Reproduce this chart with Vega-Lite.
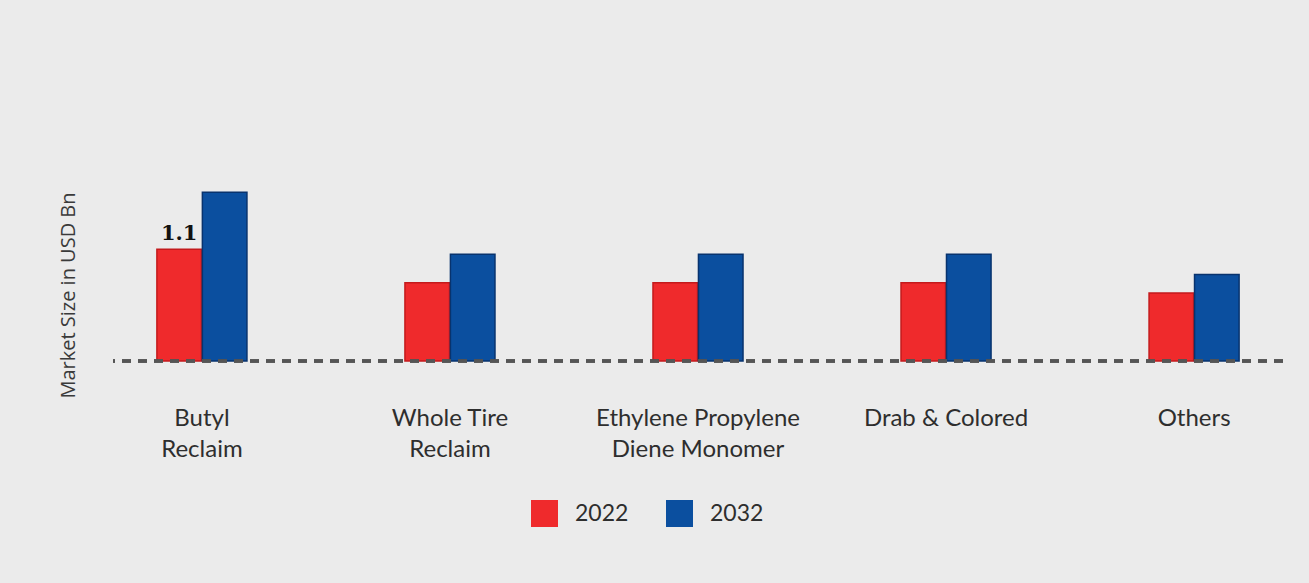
{
  "$schema": "https://vega.github.io/schema/vega-lite/v6.json",
  "autosize": "none",
  "width": 1170,
  "height": 183,
  "padding": {"left": 113, "top": 178, "right": 26, "bottom": 222},
  "background": "#ebebeb",
  "config": {"view": {"stroke": null}, "font": "Lato"},
  "data": {"values": [
    {"category": "Butyl Reclaim", "year": "2022", "value": 1.1},
    {"category": "Butyl Reclaim", "year": "2032", "value": 1.66},
    {"category": "Whole Tire Reclaim", "year": "2022", "value": 0.77},
    {"category": "Whole Tire Reclaim", "year": "2032", "value": 1.05},
    {"category": "Ethylene Propylene Diene Monomer", "year": "2022", "value": 0.77},
    {"category": "Ethylene Propylene Diene Monomer", "year": "2032", "value": 1.05},
    {"category": "Drab & Colored", "year": "2022", "value": 0.77},
    {"category": "Drab & Colored", "year": "2032", "value": 1.05},
    {"category": "Others", "year": "2022", "value": 0.67},
    {"category": "Others", "year": "2032", "value": 0.85}
  ]},
  "encoding": {
    "x": {
      "field": "category", "type": "nominal",
      "sort": ["Butyl Reclaim", "Whole Tire Reclaim", "Ethylene Propylene Diene Monomer", "Drab & Colored", "Others"],
      "scale": {"paddingInner": 0.637, "paddingOuter": 0.177},
      "axis": {
        "title": null, "domain": false, "ticks": false, "labelAngle": 0,
        "labelFontSize": 24, "labelColor": "#2e2e2e", "labelFont": "Lato",
        "labelPadding": 45, "labelBaseline": "top", "labelLineHeight": 31,
        "labelLimit": 400, "labelOverlap": false,
        "labelExpr": "datum.value == 'Butyl Reclaim' ? ['Butyl','Reclaim'] : datum.value == 'Whole Tire Reclaim' ? ['Whole Tire','Reclaim'] : datum.value == 'Ethylene Propylene Diene Monomer' ? ['Ethylene Propylene','Diene Monomer'] : datum.value"
      }
    },
    "xOffset": {"field": "year", "type": "nominal", "scale": {"paddingInner": 0.02}},
    "y": {
      "field": "value", "type": "quantitative",
      "scale": {"domain": [0, 1.8], "nice": false},
      "axis": {
        "title": "Market Size in USD Bn", "domain": false, "ticks": false, "labels": false, "grid": false,
        "titleFontSize": 20, "titleColor": "#3a3a3a", "titleFont": "Open Sans", "titleFontWeight": "normal",
        "titleAngle": -90, "titleX": -45, "titleY": 117, "titleAlign": "center", "titleBaseline": "middle"
      }
    }
  },
  "layer": [
    {
      "mark": {"type": "bar", "strokeWidth": 1.5},
      "encoding": {
        "color": {
          "field": "year", "type": "nominal",
          "scale": {"domain": ["2022", "2032"], "range": ["#ef2a2c", "#0b4f9f"]},
          "legend": {
            "title": null, "orient": "none", "legendX": 418, "legendY": 322,
            "direction": "horizontal", "symbolType": "square", "symbolSize": 729,
            "symbolStrokeWidth": 0, "symbolOpacity": 1, "labelFontSize": 23, "labelColor": "#2e2e2e",
            "labelFont": "Lato", "labelOffset": 17, "columnPadding": 37
          }
        },
        "stroke": {
          "field": "year", "type": "nominal",
          "scale": {"domain": ["2022", "2032"], "range": ["#c41a1c", "#08336e"]},
          "legend": null
        }
      }
    },
    {
      "mark": {"type": "rule", "strokeDash": [9, 7], "strokeWidth": 2.5, "color": "#555555"},
      "encoding": {"x": null, "xOffset": null, "y": {"datum": 0, "type": "quantitative"}}
    },
    {
      "transform": [{"filter": "datum.category == 'Butyl Reclaim' && datum.year == '2022'"}],
      "mark": {"type": "text", "baseline": "bottom", "dy": -5, "fontSize": 21, "fontWeight": "bold", "font": "DejaVu Serif", "color": "#111111"},
      "encoding": {"text": {"field": "value", "type": "quantitative", "format": ".1f"}}
    }
  ]
}
